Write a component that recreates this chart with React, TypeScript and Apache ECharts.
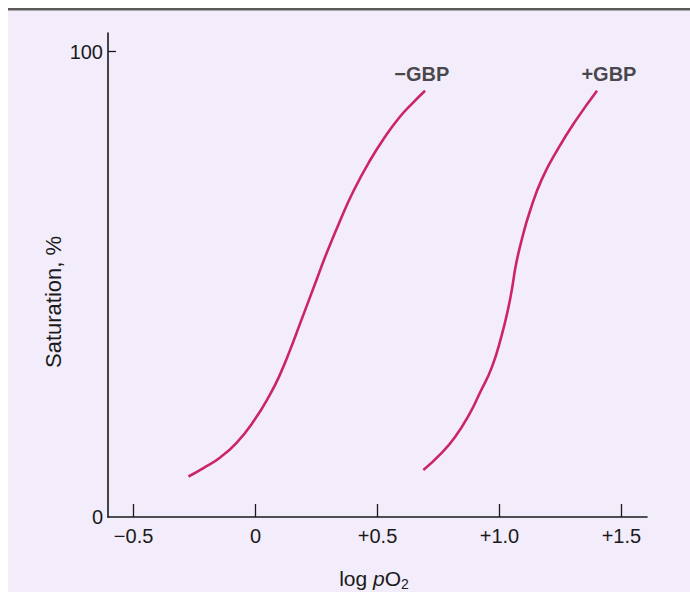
import React, { useEffect, useRef } from "react";
import * as echarts from "echarts";

// -GBP curve: [log pO2, saturation %]
const minusGBP: number[][] = [
  [-0.275, 8.7], [-0.214, 10.5], [-0.145, 12.8], [-0.077, 16.0], [-0.009, 20.5],
  [0.059, 26.3], [0.1, 30.6], [0.141, 35.8], [0.182, 41.5], [0.223, 47.2],
  [0.251, 51.1], [0.292, 56.8], [0.346, 63.6], [0.401, 70.0], [0.469, 76.6],
  [0.531, 81.7], [0.592, 86.0], [0.645, 89.0], [0.695, 91.6],
];
// +GBP curve
const plusGBP: number[][] = [
  [0.688, 10.1], [0.756, 13.4], [0.818, 17.2], [0.879, 22.3], [0.92, 26.7],
  [0.969, 32.2], [1.01, 39.2], [1.035, 44.6], [1.051, 48.9], [1.068, 54.3],
  [1.092, 59.7], [1.125, 65.7], [1.174, 72.6], [1.24, 79.1], [1.309, 84.9],
  [1.4, 91.6],
];
const curveLabels: (number | string)[][] = [
  [0.682, 95.1, "\u2212GBP"],
  [1.449, 95.1, "+GBP"],
];
const xTickValues = [-0.5, 0, 0.5, 1.0, 1.5];
const xTickLabels = ["\u22120.5", "0", "+0.5", "+1.0", "+1.5"];
const yLabelValues = [0, 100];
const yTickValues = [100];

const FONT = "'Liberation Sans', Arial, Helvetica, sans-serif";
const INK = "#1a1a1a";
const CURVE = "#cc2468";

export default function App() {
  const ref = useRef<HTMLDivElement>(null);
  useEffect(() => {
    if (!ref.current) return;
    const chart = echarts.init(ref.current, null, { renderer: "svg" });
    chart.setOption({
      animation: false,
      backgroundColor: "#f3ecfa",
      grid: { left: 100, right: 43, top: 25, bottom: 75, outerBoundsMode: "none" },
      xAxis: {
        type: "value",
        min: -0.605,
        max: 1.605,
        splitLine: { show: false },
        axisLine: { onZero: false, lineStyle: { color: INK, width: 1.6 } },
        axisTick: {
          inside: true,
          length: 13,
          customValues: xTickValues,
          lineStyle: { color: INK, width: 1.3 },
        },
        axisLabel: {
          customValues: xTickValues,
          margin: 9,
          color: INK,
          fontSize: 20,
          fontFamily: FONT,
          formatter: (v: number) => {
            const i = xTickValues.findIndex((t) => Math.abs(t - v) < 1e-6);
            return i >= 0 ? xTickLabels[i] : "";
          },
        },
      },
      yAxis: {
        type: "value",
        min: 0,
        max: 104,
        splitLine: { show: false },
        axisLine: { onZero: false, lineStyle: { color: INK, width: 1.6 } },
        axisTick: {
          inside: true,
          length: 8,
          customValues: yTickValues,
          lineStyle: { color: INK, width: 1.3 },
        },
        axisLabel: {
          customValues: yLabelValues,
          margin: 5,
          color: INK,
          fontSize: 20,
          fontFamily: FONT,
        },
      },
      graphic: [
        { type: "rect", shape: { x: 0, y: 0, width: 682, height: 2 }, style: { fill: "#5a5a5a" } },
        { type: "rect", shape: { x: 0, y: 2, width: 682, height: 1 }, style: { fill: "#a8a4ab" } },
        {
          type: "text",
          x: 45,
          y: 294,
          rotation: Math.PI / 2,
          style: {
            text: "Saturation, %",
            fill: INK,
            fontSize: 22,
            fontFamily: FONT,
            align: "center",
            verticalAlign: "middle",
          },
        },
        {
          type: "text",
          x: 366,
          y: 570,
          style: {
            text: "{a|log }{i|p}{a|O}{s|2}",
            align: "center",
            verticalAlign: "middle",
            rich: {
              a: { fontSize: 21, fontFamily: FONT, fill: INK, color: INK },
              i: { fontSize: 21, fontFamily: FONT, fontStyle: "italic", fill: INK, color: INK },
              s: { fontSize: 14, fontFamily: FONT, fill: INK, color: INK, padding: [11, 0, 0, 0] },
            },
          },
        },
      ],
      series: [
        {
          type: "line",
          data: minusGBP,
          smooth: true,
          showSymbol: false,
          lineStyle: { color: CURVE, width: 2.6 },
        },
        {
          type: "line",
          data: plusGBP,
          smooth: true,
          showSymbol: false,
          lineStyle: { color: CURVE, width: 2.6 },
        },
        {
          type: "scatter",
          data: curveLabels,
          symbolSize: 1,
          itemStyle: { color: "rgba(0,0,0,0)" },
          label: {
            show: true,
            position: "inside",
            color: INK,
            fontSize: 20,
            fontWeight: "bold",
            fontFamily: FONT,
            formatter: (p: any) => p.value[2],
          },
        },
      ],
    });
    return () => chart.dispose();
  }, []);
  return (
    <div
      ref={ref}
      style={{ position: "absolute", left: 8, top: 8, width: 682, height: 584 }}
    />
  );
}
